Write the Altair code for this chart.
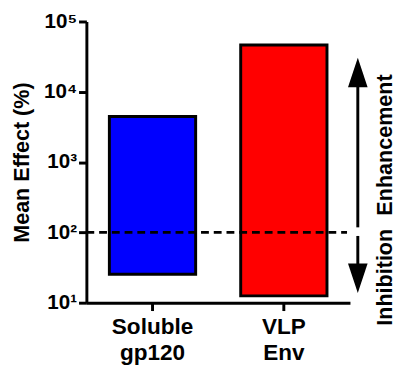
import altair as alt
import pandas as pd

categories = ["Soluble gp120", "VLP Env"]
low = [25.4, 12.5]
high = [4450, 46300]
colors = ["#0000FF", "#FF0000"]

baseline = [100]
up_arrow = [118, 18800]     # shaft start, head centre
down_arrow = [89, 22.3]     # shaft start, head centre
label_text = ["Enhancement", "Inhibition"]
label_y = [1750, 23]

FONT = "Liberation Sans"

bars_df = pd.DataFrame({"cat": categories, "low": low, "high": high, "color": colors})

yscale = alt.Scale(type="log", domain=[10, 100000], nice=False)
xscale = alt.Scale(domain=categories, paddingInner=0.343, paddingOuter=0.175)

bars = alt.Chart(bars_df).mark_bar(stroke="black", strokeWidth=3).encode(
    x=alt.X("cat:N", scale=xscale, sort=categories,
            axis=alt.Axis(title=None, labelAngle=0, labelExpr="split(datum.label, ' ')",
                          labelFont=FONT, labelFontWeight="bold", labelFontSize=23,
                          labelColor="black", labelLineHeight=27, labelPadding=5,
                          tickSize=8, tickWidth=3, tickColor="black",
                          domainWidth=3, domainColor="black")),
    y=alt.Y("low:Q", scale=yscale,
            axis=alt.Axis(title="Mean Effect (%)", values=[10, 100, 1000, 10000, 100000],
                          labelExpr="'10' + ['⁰','¹','²','³','⁴','⁵'][round(log(datum.value)/LN10)]",
                          labelFont=FONT, labelFontWeight="bold", labelFontSize=21,
                          labelColor="black", labelPadding=2,
                          tickSize=8, tickWidth=3, tickColor="black",
                          domainWidth=3, domainColor="black",
                          titleFont=FONT, titleFontWeight="bold", titleFontSize=22,
                          titleColor="black", titlePadding=10)),
    y2="high:Q",
    fill=alt.Fill("color:N", scale=None),
)

base_df = pd.DataFrame({"y": baseline})
dashed = alt.Chart(base_df).mark_rule(color="black", strokeWidth=3, strokeDash=[8, 5]).encode(
    y=alt.Y("y:Q", scale=yscale),
    x=alt.value(0),
    x2=alt.value(266),
)

shaft_df = pd.DataFrame({"a": [up_arrow[0], down_arrow[0]], "b": [up_arrow[1], down_arrow[1]]})
shafts = alt.Chart(shaft_df).mark_rule(color="black", strokeWidth=3).encode(
    y=alt.Y("a:Q", scale=yscale),
    y2="b:Q",
    x=alt.value(277),
)

up_df = pd.DataFrame({"y": [up_arrow[1]]})
up_head = alt.Chart(up_df).mark_point(
    shape="M0,-1L0.667,1L-0.667,1Z", size=900, filled=True, color="black", opacity=1
).encode(y=alt.Y("y:Q", scale=yscale), x=alt.value(277))

down_df = pd.DataFrame({"y": [down_arrow[1]]})
down_head = alt.Chart(down_df).mark_point(
    shape="M0,1L0.667,-1L-0.667,-1Z", size=900, filled=True, color="black", opacity=1
).encode(y=alt.Y("y:Q", scale=yscale), x=alt.value(277))

txt_df = pd.DataFrame({"t": label_text, "y": label_y})
texts = alt.Chart(txt_df).mark_text(
    angle=270, align="center", baseline="middle", font=FONT, fontWeight="bold",
    fontSize=22, color="black"
).encode(y=alt.Y("y:Q", scale=yscale), x=alt.value(305), text="t:N")

chart = alt.layer(bars, dashed, shafts, up_head, down_head, texts).properties(
    width=269, height=287,
    autosize=alt.AutoSizeParams(type="none"),
    padding={"left": 80, "top": 10, "right": 48, "bottom": 69},
).configure_view(stroke=None).configure_axis(grid=False)

chart.save("out.html", embed_options={"renderer": "svg", "actions": False})
